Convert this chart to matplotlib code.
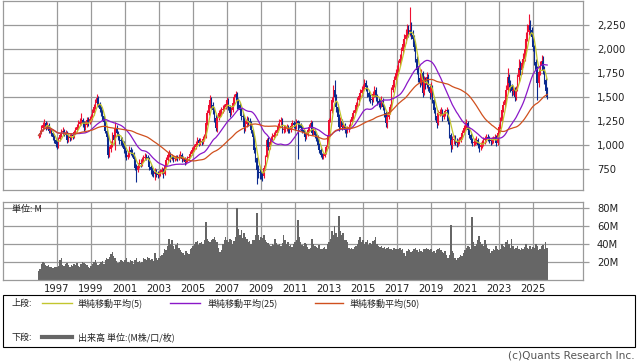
import numpy as np
import pandas as pd
import matplotlib
matplotlib.use("Agg")
import matplotlib.pyplot as plt
from matplotlib.lines import Line2D
from matplotlib.patches import Rectangle

plt.rcParams['font.family'] = ['Noto Sans CJK JP', 'DejaVu Sans']

# 月足 1995-12 .. 2025-11
first_month = "1995-12"
first_open = 1090
closes = [
    1100,
    1130, 1180, 1210, 1230, 1190, 1210, 1150, 1160, 1120, 1080, 1050, 1010,  # 1996
    990, 1060, 1100, 1135, 1150, 1105, 1130, 1050, 1080, 1070, 1105, 1090,   # 1997
    1135, 1160, 1190, 1220, 1240, 1260, 1230, 1190, 1210, 1260, 1240, 1270,  # 1998
    1280, 1330, 1395, 1440, 1490, 1430, 1380, 1345, 1300, 1240, 1150, 1085,  # 1999
    900, 960, 1000, 1100, 1050, 1180, 1120, 1090, 1050, 1040, 1020, 960,     # 2000
    920, 875, 900, 950, 930, 915, 850, 760, 740, 780, 810, 800,              # 2001
    845, 860, 880, 875, 850, 770, 740, 710, 700, 720, 700, 690,              # 2002
    700, 720, 740, 700, 780, 845, 900, 915, 850, 880, 850, 865,              # 2003
    870, 860, 880, 900, 850, 860, 820, 830, 860, 880, 910, 950,              # 2004
    960, 980, 1010, 1050, 1020, 1040, 1030, 1060, 1085, 1230, 1330, 1420,    # 2005
    1470, 1420, 1365, 1280, 1180, 1280, 1330, 1340, 1365, 1380, 1395, 1430,  # 2006
    1470, 1400, 1330, 1365, 1440, 1500, 1530, 1470, 1420, 1365, 1300, 1290,  # 2007
    1190, 1220, 1260, 1250, 1230, 1155, 1080, 950, 860, 740, 720, 710,       # 2008
    690, 680, 760, 875, 1050, 980, 1030, 1060, 1085, 1100, 1120, 1155,       # 2009
    1200, 1240, 1260, 1155, 1170, 1180, 1190, 1170, 1155, 1200, 1230, 1210,  # 2010
    1190, 1250, 1230, 1210, 1180, 1155, 1120, 1085, 1100, 1155, 1190, 1230,  # 2011
    1125, 1150, 1100, 1085, 1000, 950, 900, 875, 890, 920, 980, 1100,        # 2012
    1260, 1350, 1470, 1575, 1500, 1395, 1290, 1190, 1250, 1190, 1210, 1155,  # 2013
    1140, 1170, 1190, 1240, 1290, 1330, 1365, 1420, 1470, 1510, 1540, 1575,  # 2014
    1600, 1645, 1600, 1540, 1500, 1480, 1470, 1530, 1575, 1500, 1460, 1440,  # 2015
    1435, 1470, 1400, 1330, 1230, 1290, 1340, 1395, 1575, 1620, 1680, 1750,  # 2016
    1780, 1850, 1900, 1980, 2050, 2100, 2150, 2200, 2180, 2200, 2150, 2100,  # 2017
    2020, 1900, 1780, 1700, 1645, 1750, 1540, 1680, 1620, 1710, 1600, 1540,  # 2018
    1605, 1470, 1365, 1300, 1230, 1330, 1340, 1365, 1290, 1320, 1350, 1365,  # 2019
    1250, 1100, 1000, 1050, 1060, 1040, 1020, 1030, 1050, 1080, 1125, 1180,  # 2020
    1200, 1230, 1155, 1100, 1050, 1020, 1030, 1040, 1050, 1000, 980, 1000,   # 2021
    1020, 1050, 1060, 1085, 1070, 1050, 1040, 1050, 1060, 1085, 1020, 1125,  # 2022
    1190, 1250, 1365, 1420, 1470, 1575, 1710, 1645, 1600, 1560, 1575, 1500,  # 2023
    1575, 1710, 1800, 1780, 1850, 1900, 2000, 2100, 2180, 2250, 2200, 2120,  # 2024
    2020, 1860, 1780, 1645, 1760, 1820, 1880, 1780, 1680, 1560, 1500,        # 2025
]
highs = [
    1130,
    1160, 1210, 1240, 1270, 1250, 1240, 1230, 1190, 1180, 1140, 1100, 1070,  # 1996
    1040, 1080, 1130, 1170, 1190, 1170, 1160, 1150, 1110, 1110, 1130, 1130,  # 1997
    1160, 1190, 1220, 1260, 1280, 1330, 1280, 1250, 1250, 1290, 1290, 1300,  # 1998
    1320, 1370, 1430, 1480, 1530, 1510, 1450, 1410, 1370, 1320, 1260, 1180,  # 1999
    1110, 990, 1040, 1140, 1130, 1240, 1210, 1150, 1110, 1080, 1080, 1040,   # 2000
    990, 950, 940, 990, 980, 960, 930, 870, 800, 810, 850, 850,              # 2001
    880, 900, 920, 910, 900, 870, 790, 770, 740, 760, 750, 730,              # 2002
    730, 750, 770, 760, 800, 870, 930, 950, 930, 910, 900, 890,              # 2003
    900, 900, 910, 940, 920, 890, 870, 860, 890, 910, 940, 980,              # 2004
    990, 1010, 1040, 1080, 1070, 1070, 1060, 1090, 1110, 1250, 1360, 1460,   # 2005
    1520, 1500, 1450, 1400, 1320, 1300, 1360, 1380, 1400, 1420, 1430, 1460,  # 2006
    1500, 1490, 1420, 1400, 1470, 1530, 1560, 1550, 1490, 1450, 1390, 1340,  # 2007
    1310, 1260, 1300, 1290, 1280, 1250, 1170, 1100, 980, 880, 790, 760,      # 2008
    750, 720, 790, 900, 1070, 1080, 1060, 1090, 1120, 1140, 1160, 1180,      # 2009
    1230, 1270, 1290, 1280, 1210, 1210, 1220, 1210, 1190, 1230, 1260, 1250,  # 2010
    1240, 1270, 1260, 1250, 1230, 1200, 1170, 1140, 1140, 1180, 1220, 1260,  # 2011
    1250, 1180, 1170, 1120, 1100, 1020, 970, 920, 920, 950, 1000, 1120,      # 2012
    1280, 1380, 1500, 1620, 1680, 1530, 1430, 1320, 1290, 1270, 1240, 1230,  # 2013
    1190, 1200, 1220, 1270, 1320, 1360, 1400, 1450, 1500, 1540, 1580, 1610,  # 2014
    1640, 1690, 1680, 1630, 1570, 1530, 1510, 1560, 1610, 1600, 1530, 1500,  # 2015
    1480, 1510, 1490, 1420, 1350, 1320, 1370, 1430, 1600, 1660, 1720, 1790,  # 2016
    1830, 1890, 1950, 2020, 2100, 2160, 2210, 2260, 2250, 2440, 2280, 2200,  # 2017
    2150, 2060, 1930, 1820, 1740, 1790, 1770, 1720, 1710, 1760, 1740, 1640,  # 2018
    1660, 1620, 1500, 1400, 1330, 1360, 1380, 1400, 1380, 1350, 1380, 1400,  # 2019
    1380, 1280, 1130, 1090, 1100, 1100, 1070, 1060, 1080, 1110, 1160, 1210,  # 2020
    1240, 1270, 1250, 1180, 1120, 1070, 1060, 1070, 1090, 1070, 1020, 1030,  # 2021
    1050, 1080, 1090, 1110, 1110, 1090, 1070, 1080, 1090, 1110, 1100, 1150,  # 2022
    1220, 1290, 1400, 1460, 1520, 1620, 1800, 1740, 1680, 1640, 1610, 1600,  # 2023
    1610, 1740, 1900, 1880, 1900, 1960, 2080, 2180, 2260, 2365, 2300, 2230,  # 2024
    2150, 2040, 1900, 1820, 1800, 1870, 1940, 1930, 1820, 1700, 1600,        # 2025
]
lows = [
    1070,
    1080, 1110, 1150, 1180, 1160, 1170, 1120, 1120, 1090, 1050, 1020, 980,   # 1996
    960, 970, 1040, 1080, 1110, 1090, 1080, 1020, 1030, 1040, 1050, 1060,    # 1997
    1070, 1110, 1140, 1170, 1200, 1210, 1190, 1150, 1160, 1190, 1200, 1220,  # 1998
    1240, 1260, 1310, 1370, 1410, 1400, 1340, 1300, 1260, 1200, 1120, 1040,  # 1999
    860, 880, 930, 980, 1010, 950, 1090, 1050, 1010, 1000, 980, 920,         # 2000
    880, 840, 850, 880, 900, 880, 820, 740, 610, 720, 760, 770,              # 2001
    780, 820, 840, 840, 820, 740, 700, 680, 670, 635, 670, 660,              # 2002
    670, 680, 700, 660, 690, 770, 830, 880, 820, 840, 820, 830,              # 2003
    840, 830, 840, 860, 820, 830, 790, 800, 820, 840, 870, 900,              # 2004
    930, 940, 960, 990, 990, 1000, 1000, 1010, 1040, 1070, 1210, 1310,       # 2005
    1390, 1380, 1320, 1240, 1150, 1140, 1260, 1290, 1310, 1330, 1350, 1380,  # 2006
    1400, 1360, 1290, 1310, 1340, 1420, 1460, 1380, 1370, 1320, 1260, 1240,  # 2007
    1130, 1150, 1190, 1200, 1190, 1120, 1040, 920, 820, 590, 660, 650,       # 2008
    650, 620, 660, 740, 860, 950, 960, 1010, 1040, 1060, 1080, 1100,         # 2009
    1140, 1180, 1210, 1130, 1120, 1140, 1150, 1130, 1120, 1140, 1180, 1180,  # 2010
    1160, 1170, 850, 1180, 1150, 1120, 1090, 1040, 1060, 1090, 1140, 1170,   # 2011
    1100, 1100, 1070, 1040, 970, 920, 870, 850, 850, 880, 910, 970,          # 2012
    1090, 1240, 1330, 1450, 1450, 1340, 1250, 1150, 1170, 1160, 1170, 1120,  # 2013
    1080, 1120, 1140, 1170, 1220, 1270, 1310, 1340, 1400, 1420, 1480, 1510,  # 2014
    1540, 1580, 1560, 1500, 1460, 1440, 1420, 1450, 1500, 1460, 1420, 1400,  # 2015
    1370, 1400, 1360, 1290, 1190, 1180, 1270, 1320, 1380, 1550, 1600, 1660,  # 2016
    1720, 1760, 1820, 1880, 1950, 2020, 2060, 2110, 2120, 2140, 2100, 2050,  # 2017
    1980, 1860, 1740, 1660, 1600, 1620, 1500, 1520, 1580, 1590, 1560, 1480,  # 2018
    1500, 1440, 1330, 1260, 1180, 1210, 1300, 1310, 1250, 1270, 1300, 1320,  # 2019
    1220, 1070, 930, 960, 1010, 1000, 980, 990, 1010, 1030, 1060, 1110,      # 2020
    1150, 1180, 1120, 1070, 1020, 990, 990, 1000, 1010, 970, 930, 950,       # 2021
    970, 990, 1010, 1030, 1040, 1020, 1000, 1010, 1020, 1040, 990, 1000,     # 2022
    1100, 1170, 1230, 1340, 1390, 1440, 1550, 1600, 1550, 1510, 1520, 1460,  # 2023
    1470, 1560, 1660, 1730, 1740, 1810, 1870, 1980, 2080, 2150, 2150, 2070,  # 2024
    1980, 1830, 1740, 1470, 1600, 1730, 1790, 1740, 1640, 1530, 1480,        # 2025
]

# 出来高 (M)
volumes = [
    10,
    12, 18, 20, 19, 17, 16, 17, 15, 14, 13, 15, 14,   # 1996
    14, 16, 22, 24, 17, 16, 18, 19, 17, 15, 17, 16,   # 1997
    18, 17, 19, 16, 15, 18, 20, 19, 18, 17, 14, 13,   # 1998
    16, 18, 20, 22, 19, 17, 18, 20, 21, 18, 22, 24,   # 1999
    23, 26, 29, 31, 27, 24, 21, 19, 20, 22, 21, 20,   # 2000
    22, 24, 20, 19, 22, 21, 18, 22, 24, 20, 21, 19,   # 2001
    20, 24, 23, 22, 26, 25, 22, 23, 21, 30, 24, 22,   # 2002
    25, 27, 28, 30, 35, 33, 38, 46, 40, 44, 38, 35,   # 2003
    39, 41, 36, 33, 31, 30, 28, 32, 30, 29, 34, 36,   # 2004
    38, 40, 42, 43, 39, 41, 42, 40, 44, 65, 46, 43,   # 2005
    42, 44, 46, 48, 45, 42, 36, 31, 33, 40, 45, 48,   # 2006
    45, 42, 46, 44, 40, 43, 48, 80, 57, 50, 56, 47,   # 2007
    52, 48, 46, 42, 43, 40, 45, 44, 50, 75, 50, 45,   # 2008
    48, 47, 50, 44, 42, 41, 39, 38, 40, 39, 46, 41,   # 2009
    39, 40, 38, 41, 50, 44, 40, 42, 38, 39, 37, 40,   # 2010
    42, 45, 67, 48, 42, 39, 38, 41, 40, 37, 35, 36,   # 2011
    46, 40, 38, 37, 36, 39, 35, 34, 36, 37, 35, 40,   # 2012
    42, 46, 54, 50, 60, 52, 48, 71, 54, 50, 52, 45,   # 2013
    44, 42, 36, 34, 36, 35, 37, 38, 40, 44, 48, 42,   # 2014
    45, 40, 42, 44, 39, 41, 40, 43, 44, 48, 40, 38,   # 2015
    37, 38, 36, 37, 35, 36, 37, 34, 35, 33, 36, 35,   # 2016
    34, 35, 36, 33, 34, 30, 27, 32, 34, 33, 31, 32,   # 2017
    35, 36, 33, 31, 34, 32, 31, 35, 34, 36, 34, 33,   # 2018
    35, 31, 32, 30, 33, 34, 36, 33, 31, 30, 32, 28,   # 2019
    24, 28, 61, 32, 30, 25, 22, 24, 26, 28, 27, 30,   # 2020
    33, 36, 38, 37, 34, 70, 42, 38, 40, 44, 49, 42,   # 2021
    40, 38, 44, 40, 36, 34, 30, 32, 35, 33, 38, 34,   # 2022
    33, 35, 40, 38, 37, 42, 44, 40, 36, 46, 38, 35,   # 2023
    36, 38, 34, 33, 36, 35, 37, 40, 36, 34, 38, 35,   # 2024
    37, 36, 40, 38, 33, 35, 38, 39, 34, 42, 36,       # 2025
]

price_ticks = [750, 1000, 1250, 1500, 1750, 2000, 2250]
vol_ticks = [20, 40, 60, 80]
year_ticks = list(range(1997, 2026, 2))
ma_windows = [5, 25, 50]
ma_colors = ['#c2c62e', '#8a18c8', '#d0501e']
ma_labels = ['単純移動平均(5)', '単純移動平均(25)', '単純移動平均(50)']

UP = '#ee1133'
DOWN = '#0b2a8f'
GRID = '#9a9a9a'
TXT = '#222222'

# ---- データ整形
idx = pd.period_range(first_month, periods=len(closes), freq='M')
df = pd.DataFrame({'close': closes, 'high': highs, 'low': lows,
                   'volume': volumes}, index=idx)
df['open'] = df['close'].shift(1).fillna(first_open)
df['high'] = df[['high', 'open', 'close']].max(axis=1)
df['low'] = df[['low', 'open', 'close']].min(axis=1)
x = np.array([p.year + (p.month - 1) / 12 for p in df.index])

# ---- 描画
W, H = 638, 362
fig = plt.figure(figsize=(W / 100, H / 100), dpi=100)
fig.patch.set_facecolor('white')


def fx(px):
    return px / W


def fy(py):
    return 1 - py / H


ax = fig.add_axes([fx(3), fy(190), fx(580), fy(1) - fy(190)])
axv = fig.add_axes([fx(3), fy(280), fx(580), fy(202) - fy(280)])
xlim = (1993.82, 2027.94)

for a in (ax, axv):
    a.set_xlim(*xlim)
    a.set_xticks(year_ticks)
    a.grid(True, color=GRID, lw=0.9)
    a.set_axisbelow(True)
    for s in a.spines.values():
        s.set_color(GRID)
        s.set_linewidth(0.9)
    a.yaxis.tick_right()
    a.tick_params(axis='y', length=4, width=0.9, color=GRID, pad=6,
                  labelsize=7.2, labelcolor=TXT)
    a.tick_params(axis='x', length=0, pad=3, labelsize=7.2, labelcolor=TXT)

# ローソク足
up = df['close'] >= df['open']
cols = np.where(up, UP, DOWN)
ax.vlines(x, df['low'], df['high'], colors=cols, lw=0.8, zorder=2)
body_lo = df[['open', 'close']].min(axis=1)
body_h = (df['close'] - df['open']).abs().clip(lower=6)
ax.bar(x, body_h, bottom=body_lo, width=1.1 / 12, color=cols, lw=0, zorder=3)

for w, c in zip(ma_windows, ma_colors):
    ma = df['close'].rolling(w, min_periods=1).mean()
    ax.plot(x, ma, color=c, lw=0.9, zorder=4)

ax.set_ylim(531, 2500)
ax.set_yticks(price_ticks)
ax.set_yticklabels([f'{v:,}' for v in price_ticks], family='DejaVu Sans')
ax.tick_params(axis='x', labelbottom=False)

# 出来高
axv.bar(x, df['volume'], width=1 / 12, color='#666666', lw=0, zorder=2)
axv.set_ylim(0, 86.7)
axv.set_yticks(vol_ticks)
axv.set_yticklabels([f'{v}M' for v in vol_ticks], family='DejaVu Sans')
axv.set_xticklabels([str(y) for y in year_ticks], family='DejaVu Sans')
axv.text(0.015, 0.9, '単位: M', transform=axv.transAxes, fontsize=6.5,
         ha='left', va='center', color=TXT)

# 凡例ボックス
fig.add_artist(Rectangle((fx(3), fy(347)), fx(632), fy(295) - fy(347),
                         transform=fig.transFigure, fill=False,
                         edgecolor='black', lw=0.8))
ty1, ty2 = fy(303), fy(337)
fs = 6.5
fig.text(fx(12), ty1, '上段:', fontsize=fs, va='center', color=TXT)
fig.text(fx(12), ty2, '下段:', fontsize=fs, va='center', color=TXT)
leg_x = [(42, 72, 78), (170, 200, 207), (315, 343, 350)]
for (x0, x1, tx), c, lab in zip(leg_x, ma_colors, ma_labels):
    fig.add_artist(Line2D([fx(x0), fx(x1)], [ty1, ty1], transform=fig.transFigure,
                          color=c, lw=1.0))
    fig.text(fx(tx), ty1, lab, fontsize=fs, va='center', color=TXT)
fig.add_artist(Line2D([fx(42), fx(72)], [ty2, ty2], transform=fig.transFigure,
                      color='#666666', lw=3.0))
fig.text(fx(78), ty2, '出来高 単位:(M株/口/枚)', fontsize=fs, va='center', color=TXT)

fig.text(fx(635), fy(356), '(c)Quants Research Inc.', fontsize=7.6,
         family='DejaVu Sans', ha='right', va='center', color='#555555')

fig.savefig('out.png', dpi=100, facecolor='white')
